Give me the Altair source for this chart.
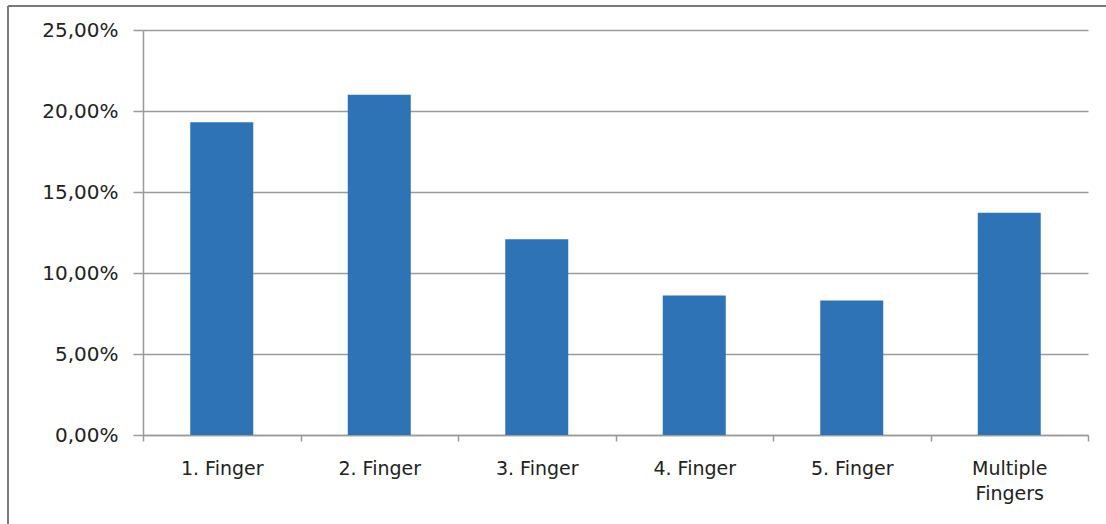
import altair as alt
import pandas as pd

categories = ["1. Finger", "2. Finger", "3. Finger", "4. Finger", "5. Finger", "Multiple Fingers"]
values = [0.1931, 0.2100, 0.1209, 0.0861, 0.0830, 0.1372]
y_ticks = [0.0, 0.05, 0.10, 0.15, 0.20, 0.25]

df = pd.DataFrame({"category": categories, "value": values})

FONT = "DejaVu Sans"
GRID = "#9a9a9a"

bars = alt.Chart(df).mark_bar(color="#2E73B6", width={"band": 0.4}).encode(
    x=alt.X(
        "category:N",
        sort=categories,
        title=None,
        scale=alt.Scale(paddingInner=0, paddingOuter=0),
        axis=alt.Axis(
            labelAngle=0,
            labelFont=FONT,
            labelFontSize=19,
            labelColor="#222222",
            labelPadding=18,
            labelLineHeight=25,
            labelExpr="datum.value == 'Multiple Fingers' ? ['Multiple', 'Fingers'] : datum.label",
            tickBand="extent",
            tickExtra=True,
            tickSize=6,
            tickColor=GRID,
            tickWidth=1.5,
            domainColor=GRID,
            domainWidth=1.5,
            grid=False,
        ),
    ),
    y=alt.Y(
        "value:Q",
        title=None,
        scale=alt.Scale(domain=[0, 0.25], nice=False),
        axis=alt.Axis(
            values=y_ticks,
            labelExpr="replace(format(datum.value, '.2%'), '.', ',')",
            labelFont=FONT,
            labelFontSize=20,
            labelColor="#222222",
            labelPadding=15,
            tickSize=10,
            tickColor=GRID,
            tickWidth=1.5,
            domainColor=GRID,
            domainWidth=1.5,
            grid=True,
            gridColor=GRID,
            gridWidth=1.5,
        ),
    ),
)

frame_left = alt.Chart(df).mark_rule(color="#7a7a7a", strokeWidth=2).encode(
    x=alt.value(-135), y=alt.value(-24), y2=alt.value(520)
)
frame_top = alt.Chart(df).mark_rule(color="#7a7a7a", strokeWidth=2).encode(
    x=alt.value(-135), x2=alt.value(1000), y=alt.value(-24)
)

chart = (
    alt.layer(bars, frame_left, frame_top)
    .properties(
        width=945,
        height=405,
        autosize=alt.AutoSizeParams(type="none"),
        padding={"left": 143, "top": 30, "right": 18, "bottom": 89},
        background="white",
    )
    .configure_view(stroke=None)
)

chart.save("out.html", embed_options={"renderer": "svg", "actions": False})
